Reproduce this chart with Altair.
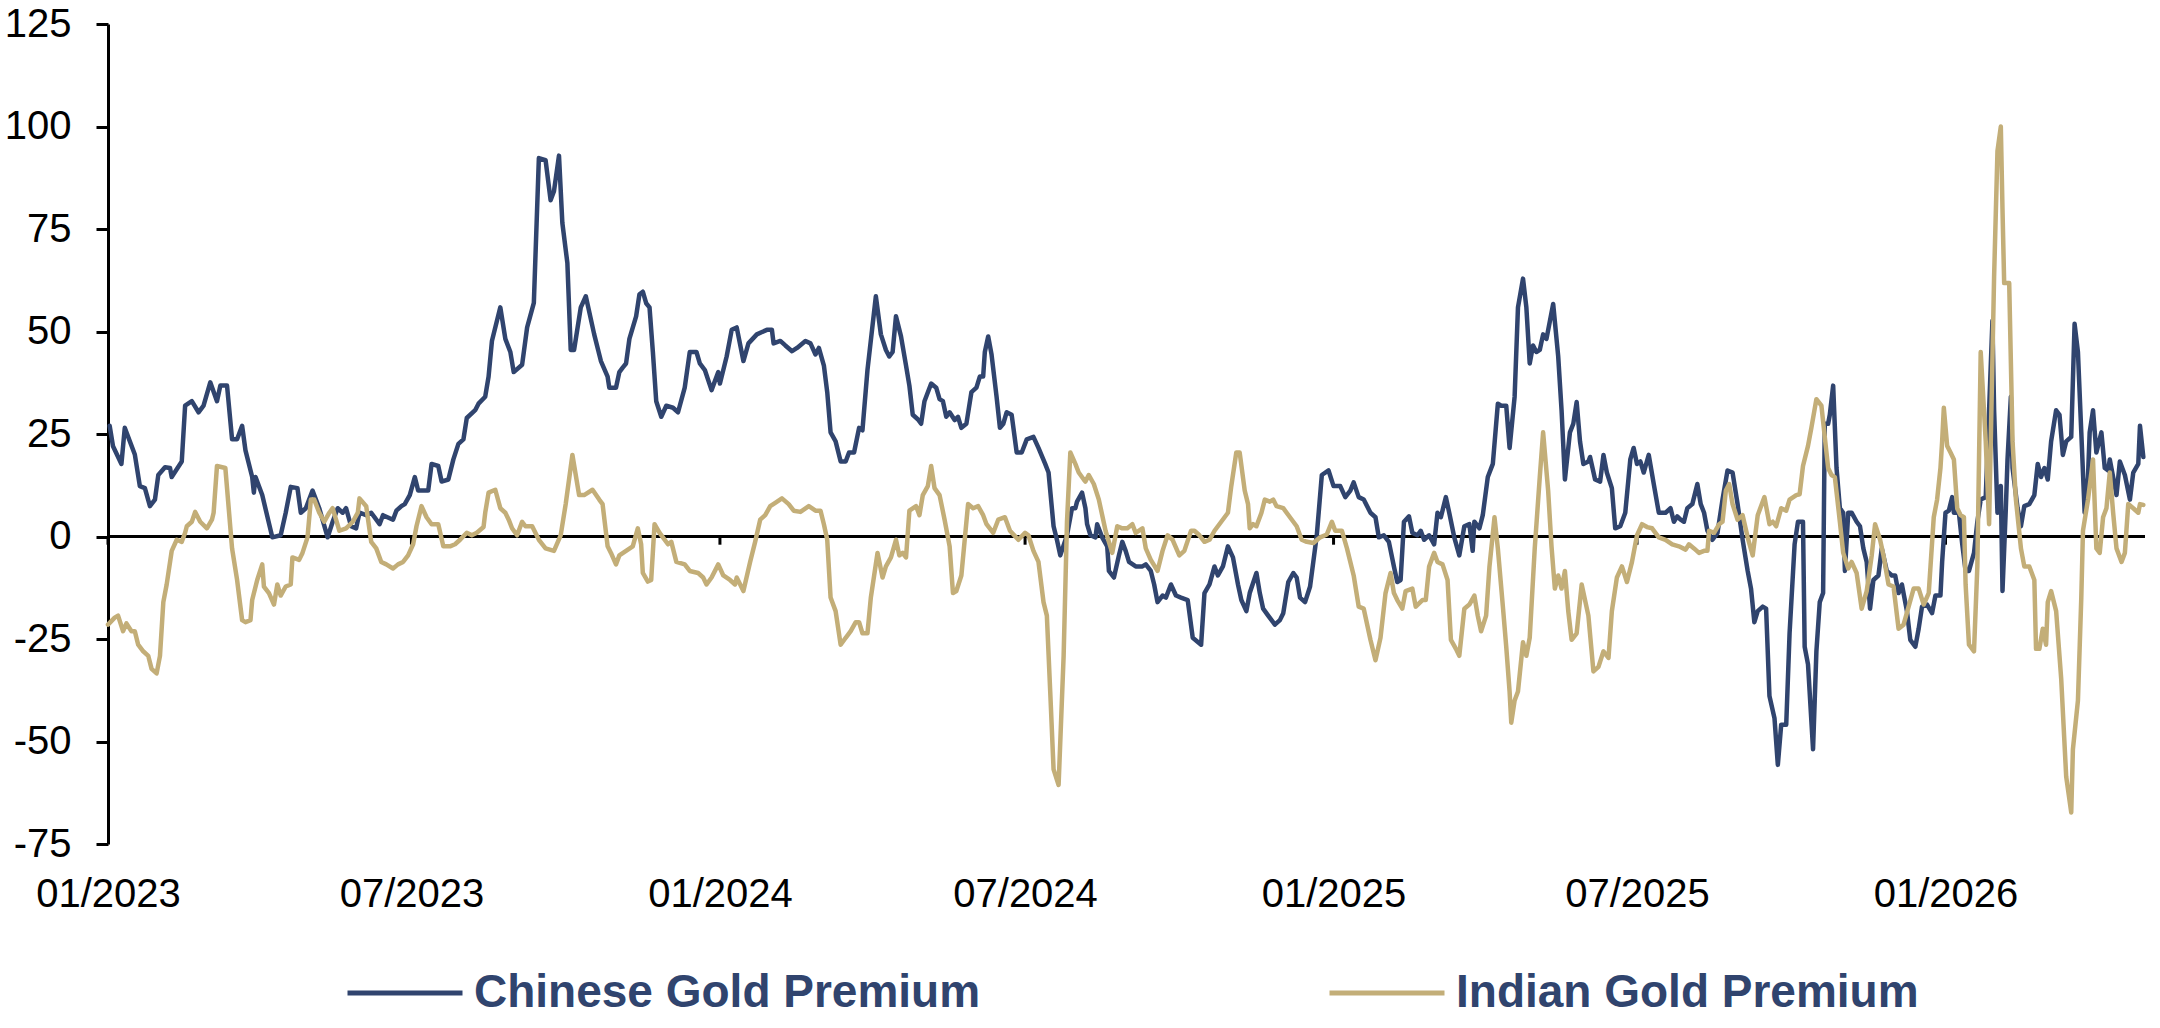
import altair as alt
import pandas as pd

# Daily gold premiums (USD/oz), Chinese vs Indian market, read by date
CHINESE_2023 = [
    ("2023-01-02", 27.0), ("2023-01-04", 22.0), ("2023-01-09", 17.7), ("2023-01-11", 26.5),
    ("2023-01-17", 20.0), ("2023-01-20", 12.3), ("2023-01-23", 11.8), ("2023-01-26", 7.4),
    ("2023-01-29", 9.0), ("2023-01-31", 15.0), ("2023-02-04", 16.9), ("2023-02-07", 16.7),
    ("2023-02-08", 14.5), ("2023-02-14", 18.3), ("2023-02-16", 31.9), ("2023-02-20", 33.0),
    ("2023-02-24", 30.3), ("2023-02-27", 31.9), ("2023-03-03", 37.6), ("2023-03-07", 33.0),
    ("2023-03-09", 36.8), ("2023-03-13", 36.8), ("2023-03-16", 23.7), ("2023-03-19", 23.7),
    ("2023-03-22", 27.0), ("2023-03-24", 21.0), ("2023-03-28", 14.5), ("2023-03-29", 10.7),
    ("2023-03-30", 14.5), ("2023-04-03", 10.1), ("2023-04-09", -0.2), ("2023-04-14", 0.3),
    ("2023-04-17", 5.8), ("2023-04-20", 12.1), ("2023-04-24", 11.8), ("2023-04-26", 5.8),
    ("2023-04-29", 6.9), ("2023-05-03", 11.2), ("2023-05-07", 6.9), ("2023-05-12", -0.2),
    ("2023-05-15", 3.6), ("2023-05-18", 6.9), ("2023-05-21", 5.8), ("2023-05-23", 6.9),
    ("2023-05-26", 2.5), ("2023-05-29", 2.0), ("2023-05-31", 5.8), ("2023-06-04", 5.2),
    ("2023-06-07", 5.8), ("2023-06-12", 3.0), ("2023-06-14", 5.2), ("2023-06-20", 4.1),
    ("2023-06-22", 6.3), ("2023-06-25", 7.4), ("2023-06-27", 7.9), ("2023-06-30", 10.1),
    ("2023-07-03", 14.5), ("2023-07-05", 11.2), ("2023-07-11", 11.2), ("2023-07-13", 17.7),
    ("2023-07-17", 17.2), ("2023-07-19", 13.4), ("2023-07-23", 13.9), ("2023-07-26", 18.8),
    ("2023-07-29", 22.6), ("2023-08-01", 23.7), ("2023-08-03", 28.9), ("2023-08-08", 30.8),
    ("2023-08-10", 32.4), ("2023-08-14", 34.1), ("2023-08-16", 39.0), ("2023-08-18", 47.7),
    ("2023-08-23", 55.9), ("2023-08-26", 48.2), ("2023-08-29", 45.0), ("2023-08-31", 40.1),
    ("2023-09-05", 41.9), ("2023-09-08", 51.0), ("2023-09-12", 57.0), ("2023-09-15", 92.3),
    ("2023-09-19", 91.8), ("2023-09-22", 82.0), ("2023-09-24", 84.2), ("2023-09-27", 92.9),
    ("2023-09-29", 76.5), ("2023-10-02", 66.7), ("2023-10-04", 45.5), ("2023-10-06", 45.5),
    ("2023-10-10", 55.9), ("2023-10-13", 58.6), ("2023-10-18", 49.3), ("2023-10-22", 42.8),
    ("2023-10-26", 39.0), ("2023-10-27", 36.3), ("2023-10-31", 36.3), ("2023-11-02", 40.1),
    ("2023-11-04", 41.2), ("2023-11-06", 42.2), ("2023-11-08", 48.2), ("2023-11-12", 53.7),
    ("2023-11-14", 59.1), ("2023-11-16", 59.7), ("2023-11-18", 56.9), ("2023-11-20", 55.9),
    ("2023-11-22", 45.0), ("2023-11-24", 33.0), ("2023-11-27", 29.2), ("2023-11-30", 31.9),
    ("2023-12-04", 31.4), ("2023-12-07", 30.3), ("2023-12-11", 36.3), ("2023-12-14", 45.0),
    ("2023-12-18", 45.0), ("2023-12-20", 42.2), ("2023-12-23", 40.6), ("2023-12-27", 35.7),
    ("2023-12-31", 40.1),
]
CHINESE_2024 = [
    ("2024-01-01", 37.3), ("2024-01-05", 43.9), ("2024-01-08", 50.4), ("2024-01-11", 51.0),
    ("2024-01-15", 42.8), ("2024-01-18", 47.1), ("2024-01-23", 49.3), ("2024-01-29", 50.4),
    ("2024-02-01", 50.4), ("2024-02-02", 47.1), ("2024-02-06", 47.7), ("2024-02-09", 46.6),
    ("2024-02-13", 45.2), ("2024-02-16", 46.0), ("2024-02-21", 47.7), ("2024-02-24", 47.1),
    ("2024-02-27", 44.4), ("2024-02-29", 46.0), ("2024-03-03", 41.7), ("2024-03-05", 35.2),
    ("2024-03-07", 25.4), ("2024-03-10", 23.2), ("2024-03-13", 18.3), ("2024-03-16", 18.3),
    ("2024-03-18", 20.5), ("2024-03-21", 20.5), ("2024-03-24", 26.5), ("2024-03-26", 25.9),
    ("2024-03-29", 40.6), ("2024-04-03", 58.6), ("2024-04-06", 49.3), ("2024-04-09", 45.5),
    ("2024-04-11", 43.9), ("2024-04-13", 45.0), ("2024-04-15", 53.7), ("2024-04-18", 48.8),
    ("2024-04-21", 41.7), ("2024-04-23", 36.8), ("2024-04-25", 29.7), ("2024-04-28", 28.6),
    ("2024-04-30", 27.5), ("2024-05-02", 33.0), ("2024-05-06", 37.3), ("2024-05-09", 36.3),
    ("2024-05-11", 33.5), ("2024-05-13", 33.0), ("2024-05-15", 29.2), ("2024-05-17", 30.3),
    ("2024-05-20", 28.4), ("2024-05-22", 29.2), ("2024-05-24", 26.5), ("2024-05-27", 27.5),
    ("2024-05-30", 35.2), ("2024-06-02", 36.3), ("2024-06-04", 39.0), ("2024-06-06", 39.0),
    ("2024-06-07", 45.0), ("2024-06-09", 48.8), ("2024-06-11", 44.4), ("2024-06-14", 34.1),
    ("2024-06-16", 26.5), ("2024-06-18", 27.5), ("2024-06-20", 30.3), ("2024-06-23", 29.7),
    ("2024-06-26", 20.5), ("2024-06-29", 20.5), ("2024-07-02", 23.7), ("2024-07-06", 24.3),
    ("2024-07-09", 21.6), ("2024-07-13", 17.7), ("2024-07-15", 15.6), ("2024-07-18", 2.5),
    ("2024-07-20", -0.8), ("2024-07-22", -4.6), ("2024-07-26", 0.3), ("2024-07-29", 6.9),
    ("2024-07-31", 6.9), ("2024-08-01", 8.5), ("2024-08-04", 10.7), ("2024-08-06", 6.9),
    ("2024-08-07", 3.0), ("2024-08-09", 0.3), ("2024-08-12", -0.2), ("2024-08-13", 3.0),
    ("2024-08-16", -0.2), ("2024-08-19", -2.4), ("2024-08-20", -8.4), ("2024-08-23", -10.0),
    ("2024-08-26", -4.6), ("2024-08-28", -1.3), ("2024-08-30", -3.5), ("2024-09-01", -6.2),
    ("2024-09-05", -7.3), ("2024-09-09", -7.3), ("2024-09-11", -6.8), ("2024-09-14", -8.4),
    ("2024-09-16", -11.7), ("2024-09-18", -16.0), ("2024-09-21", -14.4), ("2024-09-23", -14.9),
    ("2024-09-26", -11.7), ("2024-09-29", -14.4), ("2024-10-02", -14.9), ("2024-10-06", -15.5),
    ("2024-10-09", -24.7), ("2024-10-14", -26.4), ("2024-10-16", -13.8), ("2024-10-19", -11.7),
    ("2024-10-22", -7.3), ("2024-10-24", -9.5), ("2024-10-27", -7.3), ("2024-10-30", -2.4),
    ("2024-11-02", -5.1), ("2024-11-05", -11.7), ("2024-11-07", -15.5), ("2024-11-10", -18.2),
    ("2024-11-12", -13.8), ("2024-11-16", -8.9), ("2024-11-18", -13.8), ("2024-11-20", -17.6),
    ("2024-11-23", -19.3), ("2024-11-27", -21.5), ("2024-11-30", -20.4), ("2024-12-02", -18.7),
    ("2024-12-05", -11.1), ("2024-12-08", -8.9), ("2024-12-10", -10.0), ("2024-12-12", -14.9),
    ("2024-12-15", -16.0), ("2024-12-18", -12.2), ("2024-12-22", 0.3), ("2024-12-25", 15.0),
    ("2024-12-29", 16.1),
]
CHINESE_2025 = [
    ("2025-01-01", 12.3), ("2025-01-05", 12.3), ("2025-01-08", 9.6), ("2025-01-11", 11.2),
    ("2025-01-13", 13.2), ("2025-01-16", 9.6), ("2025-01-19", 9.0), ("2025-01-23", 5.8),
    ("2025-01-26", 4.7), ("2025-01-28", -0.2), ("2025-01-31", 0.3), ("2025-02-03", -1.3),
    ("2025-02-06", -7.3), ("2025-02-08", -11.1), ("2025-02-10", -10.6), ("2025-02-12", 3.6),
    ("2025-02-15", 4.9), ("2025-02-17", 0.9), ("2025-02-20", 0.3), ("2025-02-22", 1.4),
    ("2025-02-24", -0.8), ("2025-02-27", 0.3), ("2025-03-02", -1.9), ("2025-03-04", 5.8),
    ("2025-03-06", 4.7), ("2025-03-09", 9.6), ("2025-03-11", 5.8), ("2025-03-14", -0.2),
    ("2025-03-17", -4.6), ("2025-03-20", 2.5), ("2025-03-23", 3.0), ("2025-03-25", -3.5),
    ("2025-03-26", 3.6), ("2025-03-29", 2.0), ("2025-03-31", 5.2), ("2025-04-03", 14.5),
    ("2025-04-06", 17.7), ("2025-04-09", 32.4), ("2025-04-11", 31.9), ("2025-04-14", 31.9),
    ("2025-04-16", 21.6), ("2025-04-19", 34.1), ("2025-04-21", 55.9), ("2025-04-24", 62.9),
    ("2025-04-26", 55.9), ("2025-04-28", 42.2), ("2025-04-30", 46.6), ("2025-05-02", 45.0),
    ("2025-05-04", 45.5), ("2025-05-06", 49.3), ("2025-05-08", 48.2), ("2025-05-12", 56.7),
    ("2025-05-15", 43.9), ("2025-05-17", 30.8), ("2025-05-19", 13.9), ("2025-05-22", 25.4),
    ("2025-05-24", 27.5), ("2025-05-26", 32.8), ("2025-05-28", 23.2), ("2025-05-30", 17.7),
    ("2025-06-02", 18.3), ("2025-06-03", 19.4), ("2025-06-06", 13.9), ("2025-06-09", 13.4),
    ("2025-06-11", 19.9), ("2025-06-13", 15.6), ("2025-06-16", 11.8), ("2025-06-18", 2.0),
    ("2025-06-21", 2.5), ("2025-06-24", 5.8), ("2025-06-27", 18.8), ("2025-06-29", 21.6),
    ("2025-07-01", 17.7), ("2025-07-03", 18.3), ("2025-07-05", 15.6), ("2025-07-08", 19.9),
    ("2025-07-11", 12.8), ("2025-07-14", 5.8), ("2025-07-18", 5.8), ("2025-07-21", 6.9),
    ("2025-07-23", 3.6), ("2025-07-25", 4.9), ("2025-07-27", 4.1), ("2025-07-29", 3.6),
    ("2025-07-31", 6.9), ("2025-08-03", 7.9), ("2025-08-06", 12.8), ("2025-08-08", 7.9),
    ("2025-08-10", 5.8), ("2025-08-12", 1.4), ("2025-08-15", -0.8), ("2025-08-18", 0.9),
    ("2025-08-21", 9.0), ("2025-08-24", 16.1), ("2025-08-27", 15.6), ("2025-08-30", 7.9),
    ("2025-09-02", -0.8), ("2025-09-05", -8.4), ("2025-09-07", -12.7), ("2025-09-09", -20.9),
    ("2025-09-11", -18.2), ("2025-09-14", -17.1), ("2025-09-16", -17.6), ("2025-09-18", -38.9),
    ("2025-09-21", -44.3), ("2025-09-23", -55.7), ("2025-09-25", -45.9), ("2025-09-28", -45.9),
    ("2025-09-30", -23.6), ("2025-10-03", -1.9), ("2025-10-05", 3.6), ("2025-10-08", 3.6),
    ("2025-10-09", -26.9), ("2025-10-11", -31.2), ("2025-10-14", -51.9), ("2025-10-16", -28.0),
    ("2025-10-18", -16.0), ("2025-10-20", -13.8), ("2025-10-21", 27.5), ("2025-10-23", 27.5),
    ("2025-10-24", 29.7), ("2025-10-26", 36.8), ("2025-10-28", 16.7), ("2025-10-30", 6.9),
    ("2025-11-01", 5.8), ("2025-11-02", -8.4), ("2025-11-04", 5.8), ("2025-11-06", 5.8),
    ("2025-11-09", 3.6), ("2025-11-11", 2.5), ("2025-11-13", -2.9), ("2025-11-15", -6.2),
    ("2025-11-17", -17.6), ("2025-11-19", -10.6), ("2025-11-22", -9.5), ("2025-11-24", -2.9),
    ("2025-11-27", -8.4), ("2025-11-30", -9.5), ("2025-12-02", -9.5), ("2025-12-04", -13.8),
    ("2025-12-06", -11.7), ("2025-12-09", -18.2), ("2025-12-11", -25.2), ("2025-12-14", -26.9),
    ("2025-12-16", -22.5), ("2025-12-18", -17.1), ("2025-12-21", -16.6), ("2025-12-24", -18.7),
    ("2025-12-26", -14.4), ("2025-12-29", -14.4), ("2025-12-30", -6.2),
]
CHINESE_2026 = [
    ("2026-01-01", 5.8), ("2026-01-03", 6.3), ("2026-01-05", 9.6), ("2026-01-06", 5.8),
    ("2026-01-09", 5.8), ("2026-01-11", -1.9), ("2026-01-13", -8.4), ("2026-01-15", -8.4),
    ("2026-01-18", -4.0), ("2026-01-20", 3.6), ("2026-01-22", 9.0), ("2026-01-25", 9.6),
    ("2026-01-27", 30.8), ("2026-01-29", 52.6), ("2026-01-30", 30.8), ("2026-02-01", 5.8),
    ("2026-02-03", 12.3), ("2026-02-04", -13.3), ("2026-02-06", 6.9), ("2026-02-07", 18.8),
    ("2026-02-09", 34.1), ("2026-02-10", 16.7), ("2026-02-13", 6.9), ("2026-02-15", 2.5),
    ("2026-02-17", 7.4), ("2026-02-20", 7.9), ("2026-02-23", 10.1), ("2026-02-25", 17.7),
    ("2026-02-27", 14.5), ("2026-03-01", 16.7), ("2026-03-03", 13.9), ("2026-03-05", 23.2),
    ("2026-03-08", 30.8), ("2026-03-10", 29.7), ("2026-03-12", 19.9), ("2026-03-14", 23.2),
    ("2026-03-17", 24.3), ("2026-03-19", 51.9), ("2026-03-21", 45.0), ("2026-03-23", 25.4),
    ("2026-03-25", 5.8), ("2026-03-27", 14.5), ("2026-03-28", 25.4), ("2026-03-30", 30.8),
    ("2026-04-01", 20.5), ("2026-04-04", 25.4), ("2026-04-06", 16.7), ("2026-04-08", 16.1),
    ("2026-04-09", 18.8), ("2026-04-11", 14.5), ("2026-04-13", 10.1), ("2026-04-15", 18.3),
    ("2026-04-18", 15.0), ("2026-04-21", 9.0), ("2026-04-23", 15.6), ("2026-04-26", 17.7),
    ("2026-04-27", 27.0), ("2026-04-29", 19.4),
]

INDIAN_2023 = [
    ("2023-01-01", -21.5), ("2023-01-05", -19.8), ("2023-01-07", -19.3), ("2023-01-10", -23.1),
    ("2023-01-12", -21.2), ("2023-01-15", -23.1), ("2023-01-17", -23.1), ("2023-01-19", -26.4),
    ("2023-01-22", -28.0), ("2023-01-25", -29.1), ("2023-01-27", -32.3), ("2023-01-30", -33.4),
    ("2023-02-01", -29.1), ("2023-02-03", -16.0), ("2023-02-05", -11.7), ("2023-02-08", -3.5),
    ("2023-02-11", -0.8), ("2023-02-14", -1.3), ("2023-02-16", 0.9), ("2023-02-17", 2.5),
    ("2023-02-20", 3.6), ("2023-02-22", 6.0), ("2023-02-25", 3.6), ("2023-03-01", 2.0),
    ("2023-03-04", 4.1), ("2023-03-05", 5.8), ("2023-03-07", 17.2), ("2023-03-12", 16.7),
    ("2023-03-16", -2.9), ("2023-03-19", -10.6), ("2023-03-22", -20.4), ("2023-03-24", -20.9),
    ("2023-03-27", -20.4), ("2023-03-28", -15.5), ("2023-03-31", -10.6), ("2023-04-03", -6.8),
    ("2023-04-04", -12.2), ("2023-04-07", -13.8), ("2023-04-10", -16.6), ("2023-04-12", -11.7),
    ("2023-04-14", -14.4), ("2023-04-17", -12.2), ("2023-04-20", -11.7), ("2023-04-21", -5.1),
    ("2023-04-25", -5.7), ("2023-04-27", -4.0), ("2023-04-30", -0.2), ("2023-05-02", 9.0),
    ("2023-05-04", 9.0), ("2023-05-07", 5.8), ("2023-05-10", 3.6), ("2023-05-13", 5.8),
    ("2023-05-15", 6.9), ("2023-05-19", 1.4), ("2023-05-23", 2.0), ("2023-05-27", 3.6),
    ("2023-05-30", 5.8), ("2023-05-31", 9.3), ("2023-06-04", 7.4), ("2023-06-07", -1.3),
    ("2023-06-10", -2.9), ("2023-06-13", -6.2), ("2023-06-16", -6.8), ("2023-06-20", -7.8),
    ("2023-06-23", -6.8), ("2023-06-26", -6.2), ("2023-06-29", -4.6), ("2023-07-02", -1.9),
    ("2023-07-04", 2.5), ("2023-07-07", 7.4), ("2023-07-10", 4.7), ("2023-07-13", 3.0),
    ("2023-07-17", 3.0), ("2023-07-20", -2.4), ("2023-07-24", -2.4), ("2023-07-27", -1.9),
    ("2023-07-30", -0.8), ("2023-08-03", 0.9), ("2023-08-06", 0.3), ("2023-08-09", 0.9),
    ("2023-08-13", 2.3), ("2023-08-14", 5.8), ("2023-08-16", 10.7), ("2023-08-20", 11.4),
    ("2023-08-23", 6.9), ("2023-08-26", 5.8), ("2023-08-28", 4.1), ("2023-08-30", 2.0),
    ("2023-09-02", 0.3), ("2023-09-05", 3.6), ("2023-09-07", 2.5), ("2023-09-11", 2.5),
    ("2023-09-15", -0.8), ("2023-09-19", -2.9), ("2023-09-24", -3.5), ("2023-09-28", 0.3),
    ("2023-10-01", 7.9), ("2023-10-05", 19.9), ("2023-10-09", 10.1), ("2023-10-12", 10.1),
    ("2023-10-17", 11.4), ("2023-10-21", 9.0), ("2023-10-23", 7.9), ("2023-10-26", -2.4),
    ("2023-10-28", -4.0), ("2023-10-31", -6.8), ("2023-11-02", -4.6), ("2023-11-06", -3.5),
    ("2023-11-10", -2.4), ("2023-11-13", 2.0), ("2023-11-15", -1.9), ("2023-11-16", -8.9),
    ("2023-11-19", -11.0), ("2023-11-21", -10.6), ("2023-11-23", 3.0), ("2023-11-26", 0.9),
    ("2023-11-28", -0.2), ("2023-12-01", -1.9), ("2023-12-03", -1.3), ("2023-12-06", -6.2),
    ("2023-12-11", -6.8), ("2023-12-14", -8.4), ("2023-12-19", -8.9), ("2023-12-22", -10.0),
    ("2023-12-24", -11.7), ("2023-12-27", -10.0), ("2023-12-31", -6.8),
]
INDIAN_2024 = [
    ("2024-01-03", -9.5), ("2024-01-07", -10.6), ("2024-01-10", -11.7), ("2024-01-11", -10.0),
    ("2024-01-15", -13.3), ("2024-01-19", -6.2), ("2024-01-22", -1.3), ("2024-01-25", 4.1),
    ("2024-01-28", 5.2), ("2024-01-31", 7.4), ("2024-02-03", 8.2), ("2024-02-07", 9.3),
    ("2024-02-11", 7.9), ("2024-02-14", 6.3), ("2024-02-18", 6.0), ("2024-02-23", 7.4),
    ("2024-02-27", 6.3), ("2024-03-01", 6.3), ("2024-03-03", 3.0), ("2024-03-05", -0.8),
    ("2024-03-07", -14.9), ("2024-03-10", -18.2), ("2024-03-13", -26.4), ("2024-03-16", -24.7),
    ("2024-03-19", -23.1), ("2024-03-22", -20.9), ("2024-03-24", -20.9), ("2024-03-26", -23.6),
    ("2024-03-29", -23.6), ("2024-03-31", -14.9), ("2024-04-04", -4.0), ("2024-04-07", -10.0),
    ("2024-04-09", -7.3), ("2024-04-12", -5.1), ("2024-04-15", -0.8), ("2024-04-17", -4.6),
    ("2024-04-19", -4.0), ("2024-04-21", -5.1), ("2024-04-23", 6.3), ("2024-04-27", 7.4),
    ("2024-04-29", 5.2), ("2024-05-01", 10.1), ("2024-05-04", 12.3), ("2024-05-06", 17.2),
    ("2024-05-08", 11.8), ("2024-05-11", 10.1), ("2024-05-14", 4.1), ("2024-05-17", -2.4),
    ("2024-05-19", -13.8), ("2024-05-21", -13.3), ("2024-05-24", -9.5), ("2024-05-26", -0.8),
    ("2024-05-28", 7.9), ("2024-05-31", 6.9), ("2024-06-03", 7.4), ("2024-06-06", 5.2),
    ("2024-06-08", 3.0), ("2024-06-12", 0.9), ("2024-06-15", 4.1), ("2024-06-19", 4.7),
    ("2024-06-22", 1.4), ("2024-06-27", -0.8), ("2024-07-01", 0.9), ("2024-07-03", 0.3),
    ("2024-07-06", -3.5), ("2024-07-09", -6.2), ("2024-07-12", -16.0), ("2024-07-14", -19.3),
    ("2024-07-16", -37.8), ("2024-07-18", -56.8), ("2024-07-21", -60.6), ("2024-07-24", -29.1),
    ("2024-07-26", 3.6), ("2024-07-28", 20.5), ("2024-07-31", 17.7), ("2024-08-02", 15.6),
    ("2024-08-05", 13.9), ("2024-08-06", 13.4), ("2024-08-08", 15.0), ("2024-08-11", 12.8),
    ("2024-08-14", 9.0), ("2024-08-18", 1.4), ("2024-08-20", -1.3), ("2024-08-22", -4.0),
    ("2024-08-25", 2.5), ("2024-08-28", 2.0), ("2024-08-31", 2.0), ("2024-09-03", 3.0),
    ("2024-09-05", 0.9), ("2024-09-09", 2.0), ("2024-09-11", -2.9), ("2024-09-14", -5.7),
    ("2024-09-18", -8.4), ("2024-09-21", -3.5), ("2024-09-24", 0.3), ("2024-09-27", -0.8),
    ("2024-10-01", -4.6), ("2024-10-04", -3.5), ("2024-10-08", 1.4), ("2024-10-10", 1.4),
    ("2024-10-13", 0.3), ("2024-10-16", -1.3), ("2024-10-19", -0.8), ("2024-10-22", 1.4),
    ("2024-10-26", 3.6), ("2024-10-30", 5.8), ("2024-11-01", 12.3), ("2024-11-04", 20.5),
    ("2024-11-06", 20.5), ("2024-11-09", 11.2), ("2024-11-11", 7.9), ("2024-11-12", 2.0),
    ("2024-11-14", 3.0), ("2024-11-16", 2.5), ("2024-11-19", 5.8), ("2024-11-21", 9.0),
    ("2024-11-24", 8.5), ("2024-11-26", 9.0), ("2024-11-28", 7.4), ("2024-12-02", 6.9),
    ("2024-12-06", 4.7), ("2024-12-10", 2.5), ("2024-12-13", -0.8), ("2024-12-16", -1.3),
    ("2024-12-20", -1.6), ("2024-12-24", -0.2), ("2024-12-28", 0.5), ("2024-12-31", 3.6),
]
INDIAN_2025 = [
    ("2025-01-02", 1.4), ("2025-01-06", 1.4), ("2025-01-09", -2.9), ("2025-01-13", -9.5),
    ("2025-01-16", -17.1), ("2025-01-19", -17.6), ("2025-01-23", -25.2), ("2025-01-26", -30.2),
    ("2025-01-29", -24.7), ("2025-02-01", -13.8), ("2025-02-04", -8.9), ("2025-02-06", -13.8),
    ("2025-02-08", -15.5), ("2025-02-11", -17.6), ("2025-02-13", -13.3), ("2025-02-17", -12.7),
    ("2025-02-19", -17.1), ("2025-02-23", -15.5), ("2025-02-25", -15.5), ("2025-02-27", -7.3),
    ("2025-03-02", -4.0), ("2025-03-04", -6.2), ("2025-03-07", -6.8), ("2025-03-10", -10.6),
    ("2025-03-12", -25.2), ("2025-03-15", -27.4), ("2025-03-17", -29.1), ("2025-03-20", -17.6),
    ("2025-03-23", -16.6), ("2025-03-26", -14.4), ("2025-03-28", -19.3), ("2025-03-30", -23.1),
    ("2025-04-02", -19.3), ("2025-04-04", -7.3), ("2025-04-07", 4.7), ("2025-04-09", -2.9),
    ("2025-04-12", -17.1), ("2025-04-14", -26.9), ("2025-04-16", -37.8), ("2025-04-17", -45.4),
    ("2025-04-19", -40.0), ("2025-04-21", -37.8), ("2025-04-24", -25.8), ("2025-04-26", -29.1),
    ("2025-04-28", -24.7), ("2025-05-01", -2.9), ("2025-05-04", 14.5), ("2025-05-06", 25.4),
    ("2025-05-09", 11.2), ("2025-05-11", -2.4), ("2025-05-13", -12.7), ("2025-05-15", -9.5),
    ("2025-05-17", -12.7), ("2025-05-19", -8.4), ("2025-05-21", -18.2), ("2025-05-23", -25.2),
    ("2025-05-26", -23.6), ("2025-05-29", -11.7), ("2025-06-02", -19.3), ("2025-06-05", -32.9),
    ("2025-06-08", -31.8), ("2025-06-11", -28.0), ("2025-06-14", -29.6), ("2025-06-16", -18.2),
    ("2025-06-19", -10.0), ("2025-06-22", -7.3), ("2025-06-25", -11.1), ("2025-06-28", -6.2),
    ("2025-07-01", 0.3), ("2025-07-04", 3.0), ("2025-07-07", 2.3), ("2025-07-10", 2.0),
    ("2025-07-14", -0.2), ("2025-07-18", -0.8), ("2025-07-22", -1.9), ("2025-07-26", -2.4),
    ("2025-07-30", -3.2), ("2025-08-01", -1.9), ("2025-08-04", -2.9), ("2025-08-07", -4.0),
    ("2025-08-10", -3.5), ("2025-08-12", -3.5), ("2025-08-13", 1.4), ("2025-08-16", 0.9),
    ("2025-08-19", 3.0), ("2025-08-21", 3.6), ("2025-08-23", 11.2), ("2025-08-25", 12.8),
    ("2025-08-27", 7.9), ("2025-08-30", 4.1), ("2025-09-02", 5.2), ("2025-09-05", -0.2),
    ("2025-09-08", -4.6), ("2025-09-11", 5.2), ("2025-09-15", 9.6), ("2025-09-18", 3.0),
    ("2025-09-20", 3.6), ("2025-09-22", 2.5), ("2025-09-25", 6.9), ("2025-09-28", 6.3),
    ("2025-09-30", 9.0), ("2025-10-04", 10.1), ("2025-10-06", 10.3), ("2025-10-08", 17.2),
    ("2025-10-11", 22.1), ("2025-10-13", 26.5), ("2025-10-16", 33.5), ("2025-10-19", 31.9),
    ("2025-10-21", 24.3), ("2025-10-23", 16.7), ("2025-10-25", 15.0), ("2025-10-27", 14.5),
    ("2025-10-30", 3.6), ("2025-11-01", -4.0), ("2025-11-04", -7.8), ("2025-11-06", -6.2),
    ("2025-11-09", -8.9), ("2025-11-12", -17.6), ("2025-11-15", -13.3), ("2025-11-18", -4.6),
    ("2025-11-20", 3.0), ("2025-11-23", -0.8), ("2025-11-25", -4.6), ("2025-11-28", -11.7),
    ("2025-12-01", -12.2), ("2025-12-04", -22.5), ("2025-12-07", -21.5), ("2025-12-10", -17.1),
    ("2025-12-13", -12.7), ("2025-12-16", -12.7), ("2025-12-19", -16.6), ("2025-12-22", -13.8),
    ("2025-12-25", 4.7), ("2025-12-27", 9.0), ("2025-12-29", 16.7), ("2025-12-30", 23.2),
    ("2025-12-31", 31.4),
]
INDIAN_2026 = [
    ("2026-01-02", 22.1), ("2026-01-04", 20.5), ("2026-01-06", 18.8), ("2026-01-08", 6.9),
    ("2026-01-10", 5.2), ("2026-01-12", 4.7), ("2026-01-13", -11.7), ("2026-01-15", -26.4),
    ("2026-01-18", -28.0), ("2026-01-20", -7.3), ("2026-01-22", 45.0), ("2026-01-25", 23.2),
    ("2026-01-27", 3.0), ("2026-01-30", 63.5), ("2026-02-01", 94.0), ("2026-02-03", 100.0),
    ("2026-02-04", 79.8), ("2026-02-05", 61.8), ("2026-02-08", 61.8), ("2026-02-10", 23.2),
    ("2026-02-12", 9.0), ("2026-02-15", -2.9), ("2026-02-17", -7.3), ("2026-02-20", -7.3),
    ("2026-02-23", -10.6), ("2026-02-24", -27.4), ("2026-02-26", -27.4), ("2026-02-28", -22.5),
    ("2026-03-02", -26.4), ("2026-03-03", -16.0), ("2026-03-05", -13.3), ("2026-03-08", -18.2),
    ("2026-03-11", -34.6), ("2026-03-14", -58.6), ("2026-03-17", -67.3), ("2026-03-18", -51.9),
    ("2026-03-21", -40.0), ("2026-03-23", -14.9), ("2026-03-24", 1.4), ("2026-03-27", 9.0),
    ("2026-03-30", 18.8), ("2026-04-01", -2.9), ("2026-04-03", -4.0), ("2026-04-05", 4.7),
    ("2026-04-07", 6.9), ("2026-04-09", 15.6), ("2026-04-11", 5.8), ("2026-04-13", -2.9),
    ("2026-04-16", -6.2), ("2026-04-18", -4.0), ("2026-04-20", 7.9), ("2026-04-23", 6.9),
    ("2026-04-26", 5.8), ("2026-04-27", 7.9), ("2026-04-29", 7.7),
]

SERIES = ["Chinese Gold Premium", "Indian Gold Premium"]
COLORS = ["#30446E", "#C3AE78"]
TICK_LABELS = ["01/2023", "07/2023", "01/2024", "07/2024", "01/2025", "07/2025", "01/2026"]
Y_TICKS = [-75, -50, -25, 0, 25, 50, 75, 100, 125]

FONT = "Liberation Sans"
AXIS_FONT_SIZE = 40

rows = []
for name, parts in zip(SERIES, [
    [CHINESE_2023, CHINESE_2024, CHINESE_2025, CHINESE_2026],
    [INDIAN_2023, INDIAN_2024, INDIAN_2025, INDIAN_2026],
]):
    for part in parts:
        for d, v in part:
            rows.append({"date": d, "value": v, "series": name})
df = pd.DataFrame(rows)
df["date"] = pd.to_datetime(df["date"])

tick_dates = pd.to_datetime(TICK_LABELS, format="%m/%Y")
tick_df = pd.DataFrame({"date": tick_dates, "top": 0.0, "bottom": -2.0})
axis_values = [alt.DateTime(year=t.year, month=t.month, date=1) for t in tick_dates]

x_scale = alt.Scale(domain=[alt.DateTime(year=2023, month=1, date=1),
                            alt.DateTime(year=2026, month=4, date=30)])
y_scale = alt.Scale(domain=[-75, 125], nice=False, zero=False)

# Date labels sit under the plot; the visible axis line is the zero rule below
x_axis = alt.Axis(values=axis_values, format="%m/%Y", domain=False, ticks=False,
                  tickSize=0, grid=False, labelFlush=False, labelOverlap=False,
                  labelBound=False, labelPadding=30, labelFontSize=AXIS_FONT_SIZE,
                  labelFont=FONT, labelColor="black", title=None)
# Plain hyphen for negatives (d3's default is the typographic minus)
y_axis = alt.Axis(values=Y_TICKS, labelExpr="'' + datum.value", grid=False,
                  domainColor="black", domainWidth=3, tickColor="black", tickWidth=3,
                  tickSize=12, labelPadding=25, labelFontSize=AXIS_FONT_SIZE,
                  labelFont=FONT, labelColor="black", title=None)

zero_line = alt.Chart(pd.DataFrame({"v": [0.0]})).mark_rule(color="black", strokeWidth=3).encode(
    y=alt.Y("v:Q", scale=y_scale, axis=y_axis),
)

x_ticks = alt.Chart(tick_df).mark_rule(color="black", strokeWidth=3).encode(
    x=alt.X("date:T", scale=x_scale, axis=x_axis),
    y=alt.Y("top:Q", scale=y_scale, axis=y_axis),
    y2="bottom:Q",
)

lines = alt.Chart(df).mark_line(strokeWidth=4.5, strokeJoin="round", strokeCap="round").encode(
    x=alt.X("date:T", scale=x_scale, axis=x_axis),
    y=alt.Y("value:Q", scale=y_scale, axis=y_axis),
    color=alt.Color("series:N", scale=alt.Scale(domain=SERIES, range=COLORS),
                    legend=alt.Legend(orient="none", legendX=237, legendY=909,
                                      direction="horizontal", title=None,
                                      symbolType="stroke", symbolSize=13225,
                                      symbolStrokeWidth=5, symbolOpacity=1,
                                      labelFontSize=46, labelFont=FONT,
                                      labelFontWeight="bold", labelColor=COLORS[0],
                                      labelOffset=9, labelLimit=1000,
                                      columnPadding=338, padding=0)),
    detail="series:N",
)

chart = alt.layer(zero_line, x_ticks, lines).properties(
    width=2037,
    height=820,
    padding={"left": 108, "top": 24, "right": 15, "bottom": 182},
    autosize=alt.AutoSizeParams(type="none"),
    background="white",
).configure_view(strokeWidth=0)

chart.save("out.html", embed_options={"renderer": "svg", "actions": False})
